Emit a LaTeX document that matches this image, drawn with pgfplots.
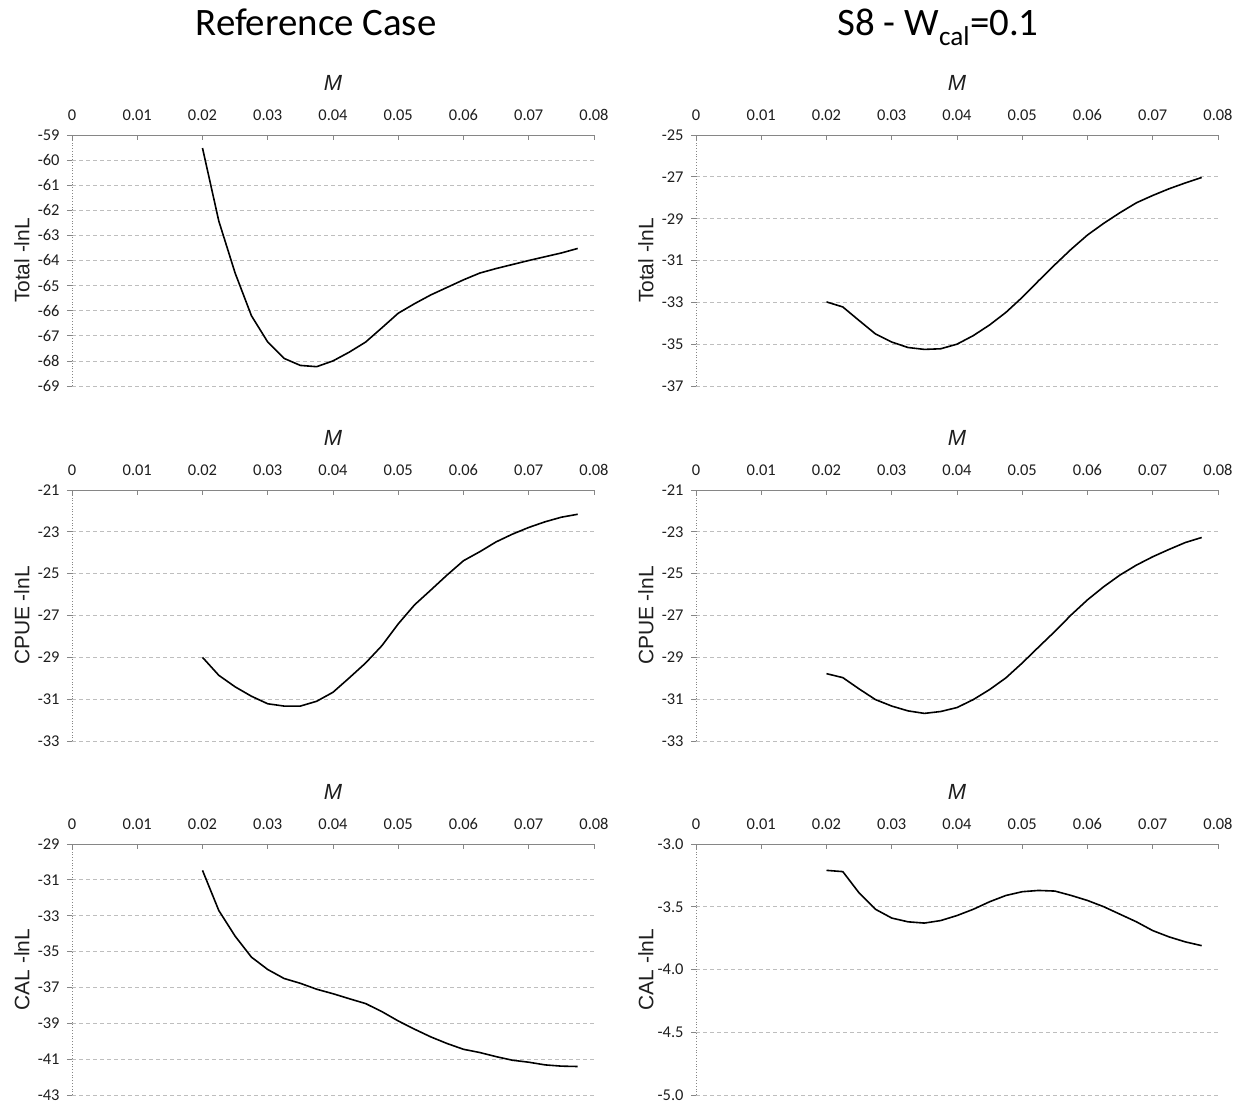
\documentclass[border=0pt]{standalone}
\usepackage{fontspec}
\setmainfont{Carlito}
\newfontfamily\arialf{Liberation Sans}
\usepackage{pgfplots}
\pgfplotsset{compat=1.18}
\definecolor{axgray}{RGB}{134,134,134}
\definecolor{gridgray}{RGB}{190,190,190}
\definecolor{txt}{RGB}{30,30,30}

\pgfplotsset{
  panel/.style={
    scale only axis, width=522bp, height=251bp, anchor=north west,
    xmin=0, xmax=0.08,
    axis x line*=top, axis y line*=left,
    scaled x ticks=false, scaled y ticks=false,
    xtick={0,0.01,0.02,0.03,0.04,0.05,0.06,0.07,0.08},
    xticklabels={0,0.01,0.02,0.03,0.04,0.05,0.06,0.07,0.08},
    xtick align=inside, ytick align=outside,
    major tick length=5bp,
    tick style={axgray, line width=0.8pt},
    x axis line style={axgray, line width=1pt},
    y axis line style={axgray, line width=0.8pt, dotted},
    ymajorgrids,
    grid style={gridgray, line width=0.8pt, dash pattern=on 4bp off 3bp},
    tick label style={font=\fontsize{16.5}{17}\selectfont, text=txt},
    xticklabel style={yshift=11bp},
    yticklabel style={xshift=-4bp},
    xlabel={\itshape M},
    xlabel style={font=\arialf\fontsize{22}{24}\selectfont, at={(axis description cs:0.5,1.207)}, anchor=center, text=txt},
    ylabel style={font=\arialf\fontsize{21}{24}\selectfont, at={(axis description cs:-0.0958,0.5)}, anchor=center, text=txt},
    clip=false,
  },
  curve/.style={black, line width=1.6pt, no marks},
}

\begin{document}
\begin{tikzpicture}
\useasboundingbox (0bp,0bp) rectangle (1242bp,-1107bp);

\node[font=\fontsize{39}{44}\selectfont, text=black, anchor=base] at (316bp,-35bp) {Reference Case};
\node[font=\fontsize{39}{44}\selectfont, text=black, anchor=base] at (938bp,-35bp) {S8 - W\textsubscript{cal}=0.1};

% Top-left
\begin{axis}[panel, at={(72bp,-135bp)}, ymin=-69, ymax=-59,
  ytick={-69,-68,-67,-66,-65,-64,-63,-62,-61,-60,-59},
  yticklabels={-69,-68,-67,-66,-65,-64,-63,-62,-61,-60,-59},
  ylabel={Total -lnL}]
\addplot[curve] coordinates {
(0.02,-59.52) (0.0225,-62.43) (0.025,-64.5) (0.0275,-66.2) (0.03,-67.25)
(0.0325,-67.9) (0.035,-68.18) (0.0375,-68.23) (0.04,-68.0) (0.0425,-67.65)
(0.045,-67.25) (0.0475,-66.68) (0.05,-66.1) (0.0525,-65.72) (0.055,-65.37)
(0.0575,-65.07) (0.06,-64.77) (0.0625,-64.5) (0.065,-64.32) (0.0675,-64.16)
(0.07,-64.0) (0.0725,-63.85) (0.075,-63.7) (0.0775,-63.52)};
\end{axis}

% Top-right
\begin{axis}[panel, at={(696bp,-135bp)}, ymin=-37, ymax=-25,
  ytick={-37,-35,-33,-31,-29,-27,-25},
  yticklabels={-37,-35,-33,-31,-29,-27,-25},
  ylabel={Total -lnL}]
\addplot[curve] coordinates {
(0.02,-32.98) (0.0225,-33.22) (0.025,-33.87) (0.0275,-34.51) (0.03,-34.9)
(0.0325,-35.16) (0.035,-35.25) (0.0375,-35.22) (0.04,-35.0) (0.0425,-34.59)
(0.045,-34.08) (0.0475,-33.48) (0.05,-32.76) (0.0525,-31.97) (0.055,-31.2)
(0.0575,-30.46) (0.06,-29.78) (0.0625,-29.22) (0.065,-28.71) (0.0675,-28.24)
(0.07,-27.89) (0.0725,-27.57) (0.075,-27.29) (0.0775,-27.03)};
\end{axis}

% Middle-left
\begin{axis}[panel, at={(72bp,-490bp)}, ymin=-33, ymax=-21,
  ytick={-33,-31,-29,-27,-25,-23,-21},
  yticklabels={-33,-31,-29,-27,-25,-23,-21},
  ylabel={CPUE -lnL}]
\addplot[curve] coordinates {
(0.02,-29.0) (0.0225,-29.86) (0.025,-30.41) (0.0275,-30.86) (0.03,-31.22)
(0.0325,-31.33) (0.035,-31.33) (0.0375,-31.1) (0.04,-30.67) (0.0425,-29.98)
(0.045,-29.27) (0.0475,-28.44) (0.05,-27.4) (0.0525,-26.49) (0.055,-25.78)
(0.0575,-25.06) (0.06,-24.38) (0.0625,-23.95) (0.065,-23.48) (0.0675,-23.11)
(0.07,-22.79) (0.0725,-22.52) (0.075,-22.3) (0.0775,-22.16)};
\end{axis}

% Middle-right
\begin{axis}[panel, at={(696bp,-490bp)}, ymin=-33, ymax=-21,
  ytick={-33,-31,-29,-27,-25,-23,-21},
  yticklabels={-33,-31,-29,-27,-25,-23,-21},
  ylabel={CPUE -lnL}]
\addplot[curve] coordinates {
(0.02,-29.78) (0.0225,-29.97) (0.025,-30.51) (0.0275,-31.02) (0.03,-31.33)
(0.0325,-31.56) (0.035,-31.68) (0.0375,-31.59) (0.04,-31.4) (0.0425,-31.02)
(0.045,-30.54) (0.0475,-29.98) (0.05,-29.27) (0.0525,-28.51) (0.055,-27.76)
(0.0575,-26.97) (0.06,-26.25) (0.0625,-25.62) (0.065,-25.06) (0.0675,-24.59)
(0.07,-24.19) (0.0725,-23.84) (0.075,-23.51) (0.0775,-23.27)};
\end{axis}

% Bottom-left
\begin{axis}[panel, at={(72bp,-844bp)}, ymin=-43, ymax=-29,
  ytick={-43,-41,-39,-37,-35,-33,-31,-29},
  yticklabels={-43,-41,-39,-37,-35,-33,-31,-29},
  ylabel={CAL -lnL}]
\addplot[curve] coordinates {
(0.02,-30.47) (0.0225,-32.71) (0.025,-34.14) (0.0275,-35.31) (0.03,-36.0)
(0.0325,-36.5) (0.035,-36.77) (0.0375,-37.1) (0.04,-37.35) (0.0425,-37.63)
(0.045,-37.9) (0.0475,-38.35) (0.05,-38.87) (0.0525,-39.33) (0.055,-39.76)
(0.0575,-40.13) (0.06,-40.45) (0.0625,-40.63) (0.065,-40.86) (0.0675,-41.06)
(0.07,-41.17) (0.0725,-41.32) (0.075,-41.39) (0.0775,-41.41)};
\end{axis}

% Bottom-right
\begin{axis}[panel, at={(696bp,-844bp)}, ymin=-5, ymax=-3,
  ytick={-5,-4.5,-4,-3.5,-3},
  yticklabels={-5.0,-4.5,-4.0,-3.5,-3.0},
  ylabel={CAL -lnL}]
\addplot[curve] coordinates {
(0.02,-3.21) (0.0225,-3.22) (0.025,-3.39) (0.0275,-3.52) (0.03,-3.59)
(0.0325,-3.62) (0.035,-3.63) (0.0375,-3.61) (0.04,-3.57) (0.0425,-3.52)
(0.045,-3.46) (0.0475,-3.41) (0.05,-3.38) (0.0525,-3.37) (0.055,-3.375)
(0.0575,-3.41) (0.06,-3.45) (0.0625,-3.50) (0.065,-3.56) (0.0675,-3.62)
(0.07,-3.69) (0.0725,-3.74) (0.075,-3.78) (0.0775,-3.81)};
\end{axis}
\end{tikzpicture}
\end{document}
